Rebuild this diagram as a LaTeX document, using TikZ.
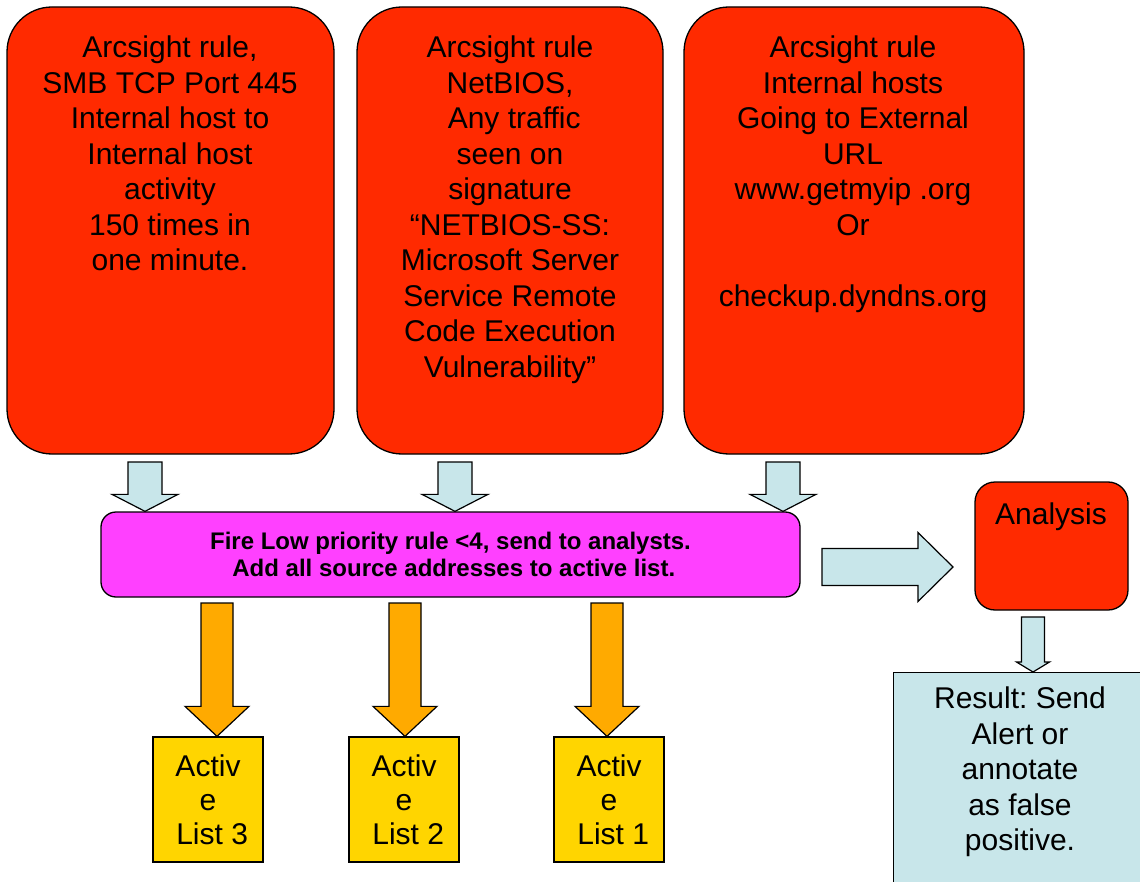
\documentclass[tikz,border=0pt]{standalone}
\usepackage{fontspec}
\setmainfont{Liberation Sans}
\usetikzlibrary{positioning, calc}

\definecolor{rulered}{RGB}{255,42,0}
\definecolor{firepink}{RGB}{255,64,255}
\definecolor{paleblue}{RGB}{200,230,234}
\definecolor{arrowor}{RGB}{255,170,0}
\definecolor{listyellow}{RGB}{255,213,0}

\tikzset{
  rulebox/.style={draw, fill=rulered, line width=1.3pt, rounded corners=45pt},
  firebox/.style={draw, fill=firepink, line width=1.3pt, rounded corners=15pt},
  listbox/.style={draw, fill=listyellow, line width=1.3pt, minimum width=110pt, minimum height=125pt,
    align=center, inner sep=0pt, font=\fontsize{30}{34}\selectfont},
  bigtext/.style={align=center, inner sep=0pt, font=\fontsize{30}{35.5}\selectfont\frenchspacing},
  bluearrow/.style={draw, fill=paleblue, line width=1.2pt, line join=miter},
  orarrow/.style={draw, fill=arrowor, line width=1.2pt, line join=miter}
}

% block arrow: style, top/start, tip, shaft half, head half, head length
\newcommand{\vblock}[6]{%
  \draw[#1] ($(#2)+(-#4pt,0pt)$) -- ($(#2)+(#4pt,0pt)$) -- ($(#3)+(#4pt,#6pt)$)
    -- ($(#3)+(#5pt,#6pt)$) -- (#3) -- ($(#3)+(-#5pt,#6pt)$) -- ($(#3)+(-#4pt,#6pt)$) -- cycle;}
\newcommand{\hblock}[6]{%
  \draw[#1] ($(#2)+(0pt,#4pt)$) -- ($(#2)+(0pt,-#4pt)$) -- ($(#3)+(-#6pt,-#4pt)$)
    -- ($(#3)+(-#6pt,-#5pt)$) -- (#3) -- ($(#3)+(-#6pt,#5pt)$) -- ($(#3)+(-#6pt,#4pt)$) -- cycle;}

\begin{document}
\begin{tikzpicture}[x=1pt, y=-1pt]
\useasboundingbox[fill=white] (0,0) rectangle (1140,882);

% the three rules
\node[rulebox, minimum width=327pt, minimum height=447pt] (rule1) at (170.5,230.5) {};
\node[rulebox, minimum width=306pt, minimum height=447pt] (rule2) at (510,230.5) {};
\node[rulebox, minimum width=340pt, minimum height=447pt] (rule3) at (854,230.5) {};

\node[bigtext, anchor=north] (txt1) at (170,36) {Arcsight rule,\\SMB TCP Port 445\\Internal host to\\Internal host\\activity\\150 times in\\one minute.};
\node[bigtext, anchor=north] (txt2) at (510,36) {Arcsight rule\\NetBIOS,\\\ Any traffic\\seen on\\signature\\``NETBIOS-SS:\\Microsoft Server\\Service Remote\\Code Execution\\Vulnerability''};
\node[bigtext, anchor=north] (txt3) at (853,36) {Arcsight rule\\Internal hosts\\Going to External\\URL\\www.getmyip .org\\Or\\\mbox{}\\checkup.dyndns.org};

% fire box
\node[firebox, minimum width=699pt, minimum height=85pt, align=center,
  font=\fontsize{24}{27}\selectfont\bfseries] (fire) at (450.5,554.5)
  {Fire Low priority rule <4, send to analysts.\\ \ Add all source addresses to active list.};

\foreach \i in {145,455,783}{
  \vblock{bluearrow}{\i,462}{\i,0 |- fire.north}{17}{33}{17}
}

% analysis and result
\node[rulebox, rounded corners=20pt, minimum width=153pt, minimum height=128pt] (analysis) at (1051.5,546) {};
\node[bigtext, anchor=north] (atxt) at (1051,503) {Analysis};
\hblock{bluearrow}{822,567}{953,567}{18.5}{34.5}{35}

\node[draw, fill=paleblue, line width=1.3pt, minimum width=260pt, minimum height=240pt,
  anchor=north west] (result) at (893,672) {};
\node[bigtext, anchor=north] (rtxt) at (1020,687) {Result: Send\\Alert or\\annotate\\as false\\positive.};
\vblock{bluearrow}{1033,617}{1033,0 |- result.north}{11.5}{16.5}{10}

% active lists
\foreach \n/\i/\a in {3/208/217, 2/404/405, 1/609/607}{
  \node[listbox] (list\n) at (\i,799.5) {Activ\\e\\\ List \n};
  \vblock{orarrow}{\a,603}{\a,0 |- list\n.north}{16}{32}{30}
}
\end{tikzpicture}
\end{document}
